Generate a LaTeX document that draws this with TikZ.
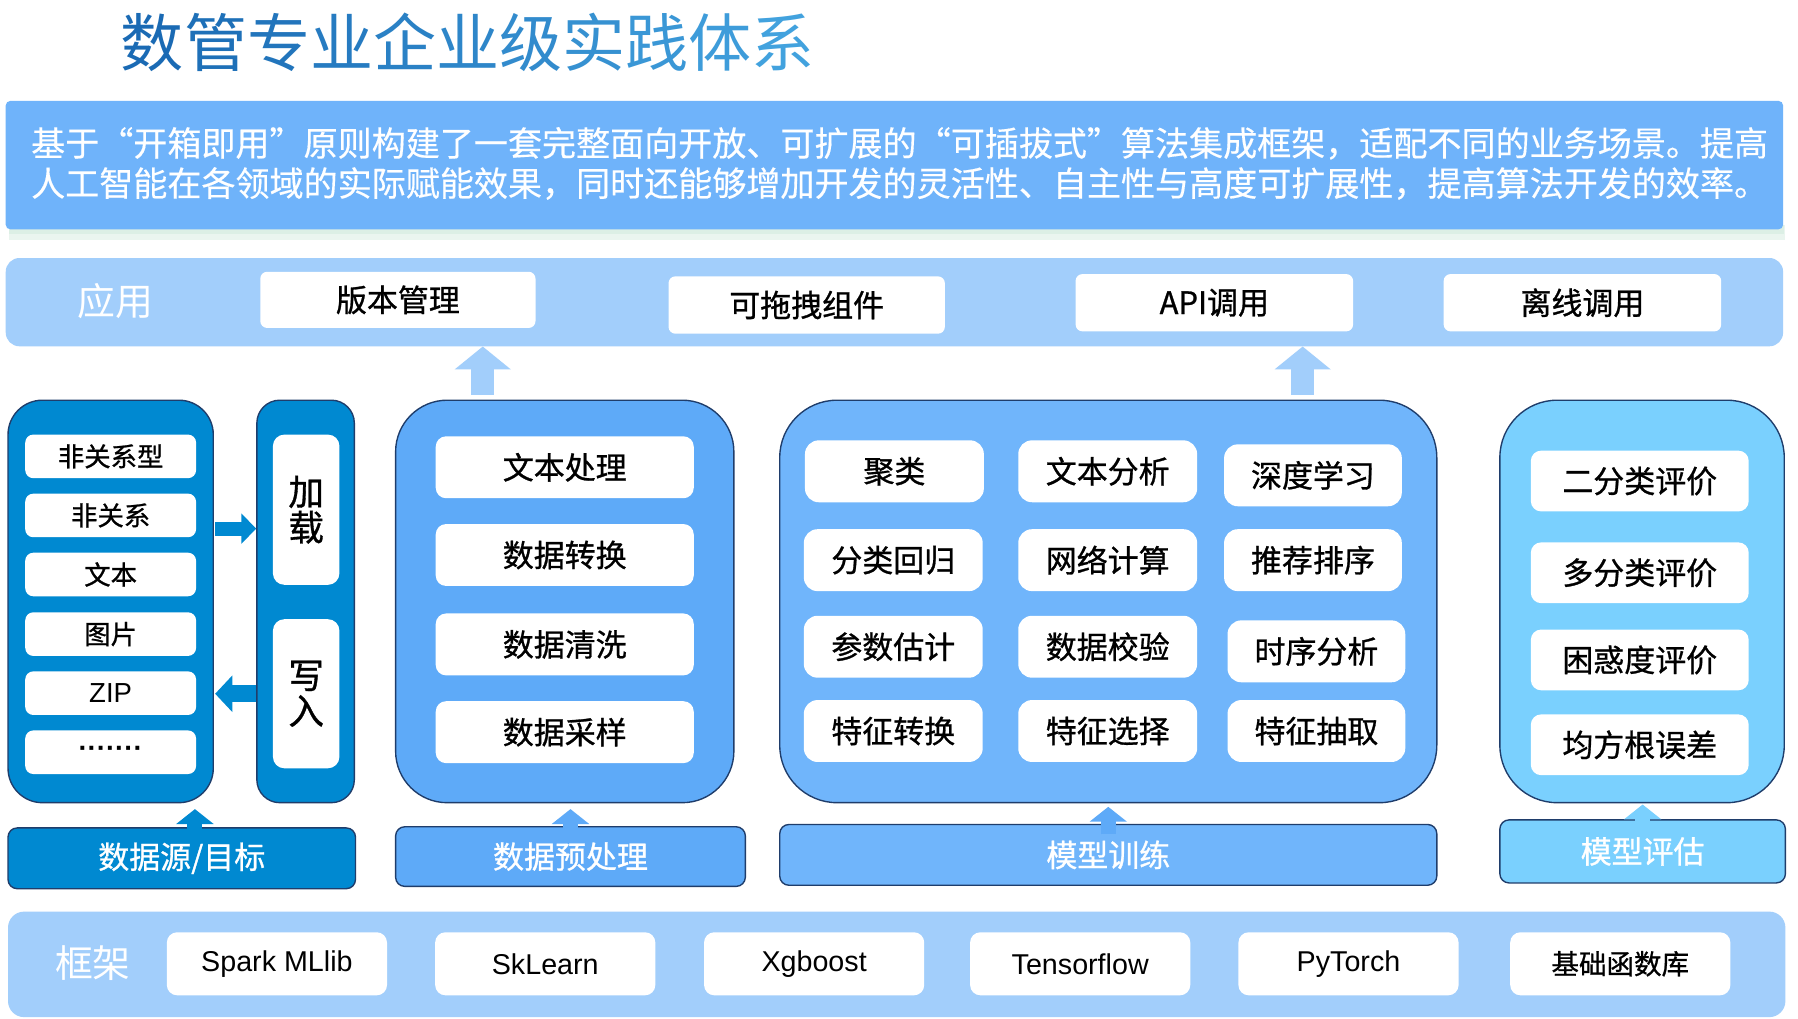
\documentclass[tikz,border=0pt]{standalone}
\usepackage{fontspec}
\setmainfont{Noto Sans CJK SC}
\newfontfamily\cjkb[FakeBold=0.9]{Noto Sans CJK SC}
\newfontfamily\cjkm[FakeBold=0.4]{Noto Sans CJK SC}
\newfontfamily\latfont{Liberation Sans}
\usetikzlibrary{arrows.meta,calc}
\definecolor{ttlA}{HTML}{1A6AB4}
\definecolor{ttlB}{HTML}{42A2DE}
\definecolor{banc}{HTML}{6FB3FA}
\definecolor{lightbar}{HTML}{A2CEFB}
\definecolor{cA}{HTML}{0089D1}
\definecolor{cB}{HTML}{5EAAF8}
\definecolor{cC}{HTML}{70B5FB}
\definecolor{cD}{HTML}{7AD0FE}
\definecolor{navy}{HTML}{1F3D6B}
\definecolor{shd}{HTML}{DCEFE5}
\newcommand\fsz[1]{\fontsize{#1}{#1}\selectfont}
\newcommand\tch[2]{{\color{ttlB!#1!ttlA}#2}}
\begin{document}
\begin{tikzpicture}[x=1pt,y=-1pt,
  sz/.style 2 args={minimum width=#1pt, minimum height=#2pt},
  wbox/.style={fill=white, rounded corners=9pt, inner sep=0pt, text=black, font=\cjkb\fsz{27}},
  bigbox/.style={draw=navy, line width=1.2pt, inner sep=0pt},
  cbar/.style={draw=navy, line width=1.2pt, rounded corners=8pt, inner sep=0pt, text=white, font=\cjkb\fsz{27}},
  lbar/.style={fill=lightbar, inner sep=0pt},
  lbl/.style={text=white, font=\fsz{33}, inner sep=0pt},
  bantext/.style={text=white, font=\cjkm\fsz{29.7}, inner sep=0pt, anchor=west},
  uparr/.style={draw=#1, line width=13pt, -{Triangle[width=32pt,length=13pt]}},
  apparr/.style={draw=lightbar, line width=20pt, -{Triangle[width=48pt,length=20pt]}},
  fwtext/.style={font=\latfont\fsz{25}}
]
\useasboundingbox (0,0) rectangle (1568,888);
\fill[white] (0,0) rectangle (1568,888);

% title
\node[font=\fsz{55}, inner sep=0pt] (ttl) at (408,37) {\tch{0}{数}\tch{10}{管}\tch{20}{专}\tch{30}{业}\tch{40}{企}\tch{50}{业}\tch{60}{级}\tch{70}{实}\tch{80}{践}\tch{90}{体}\tch{100}{系}};

% banner
\fill[shd, opacity=0.6] (8,196) rectangle (1557,209);
\fill[shd] (8,196) rectangle (1556,204);
\node[fill=banc, rounded corners=4pt, sz={1550}{112}, inner sep=0pt] (ban) at (780,144) {};
\node[bantext] (l1) at (27,125) {基于“开箱即用”原则构建了一套完整面向开放、可扩展的“可插拔式”算法集成框架，适配不同的业务场景。提高};
\node[bantext] (l2) at (27,160) {人工智能在各领域的实际赋能效果，同时还能够增加开发的灵活性、自主性与高度可扩展性，提高算法开发的效率。};

% application row
\node[lbar, rounded corners=12pt, sz={1550}{77}] (app) at (780,263.5) {};
\node[lbl] (appl) at (101,263) {应用};
\node[wbox, rounded corners=6pt, sz={240}{49}] (v1) at (347,261.5) {版本管理};
\node[wbox, rounded corners=6pt, sz={241}{50}] (v2) at (703.5,266) {可拖拽组件};
\node[wbox, rounded corners=6pt, sz={242}{50}] (v3) at (1059,264) {API调用};
\node[wbox, rounded corners=6pt, sz={242}{50}] (v4) at (1380,264) {离线调用};

% big boxes
\node[bigbox, fill=cA, rounded corners=30pt, sz={179}{351}] (c1) at (96.5,524.5) {};
\node[bigbox, fill=cA, rounded corners=20pt, sz={85}{351}] (c2) at (266.5,524.5) {};
\node[bigbox, fill=cB, rounded corners=45pt, sz={295}{351}] (c3) at (492.5,524.5) {};
\node[bigbox, fill=cC, rounded corners=50pt, sz={573}{351}] (c4) at (966.5,524.5) {};
\node[bigbox, fill=cD, rounded corners=50pt, sz={248}{351}] (c5) at (1432,524.5) {};

% column 1 items
\node[wbox, rounded corners=7pt, sz={149}{38}, font=\cjkb\fsz{23}] (d1) at (96.5,398) {非关系型};
\node[wbox, rounded corners=7pt, sz={149}{38}, font=\cjkb\fsz{23}] (d2) at (96.5,449.5) {非关系};
\node[wbox, rounded corners=7pt, sz={149}{38}, font=\cjkb\fsz{23}] (d3) at (96.5,501) {文本};
\node[wbox, rounded corners=7pt, sz={149}{38}, font=\cjkb\fsz{23}] (d4) at (96.5,553) {图片};
\node[wbox, rounded corners=7pt, sz={149}{38}, font=\latfont\fsz{24}] (d5) at (96.5,604.5) {ZIP};
\node[wbox, rounded corners=7pt, sz={149}{38}, font=\latfont\bfseries\fsz{24}] (d6) at (96.5,656) {·······};

% column 2 items
\node[wbox, rounded corners=10pt, sz={58}{131}, font=\cjkb\fsz{31}, align=center] (jz) at (267,444.5) {加\\载};
\node[wbox, rounded corners=10pt, sz={58}{130}, font=\cjkb\fsz{31}, align=center] (xr) at (267,605) {写\\入};

% side arrows
\draw[draw=cA, line width=12pt, -{Triangle[width=26pt,length=13pt]}] ($(c1.east)+(1,-63.5)$) -- ($(c2.west)+(0,-63.5)$);
\draw[draw=cA, line width=15pt, -{Triangle[width=31pt,length=15pt]}] ($(c2.west)+(0,80.5)$) -- ($(c1.east)+(1,80.5)$);

% column 3 items
\node[wbox, sz={225}{54}] (p1) at (492.5,407.5) {文本处理};
\node[wbox, sz={225}{54}] (p2) at (492.5,484) {数据转换};
\node[wbox, sz={225}{54}] (p3) at (492.5,562) {数据清洗};
\node[wbox, sz={225}{54}] (p4) at (492.5,638.5) {数据采样};

% column 4 items
\node[wbox, rounded corners=12pt, sz={156}{54}] (m11) at (780,411) {聚类};
\node[wbox, rounded corners=12pt, sz={156}{54}] (m12) at (966,411) {文本分析};
\node[wbox, rounded corners=12pt, sz={155}{54}] (m13) at (1145,414.5) {深度学习};
\node[wbox, rounded corners=12pt, sz={156}{54}] (m21) at (779,488.5) {分类回归};
\node[wbox, rounded corners=12pt, sz={156}{54}] (m22) at (966,488.5) {网络计算};
\node[wbox, rounded corners=12pt, sz={155}{54}] (m23) at (1145,488.5) {推荐排序};
\node[wbox, rounded corners=12pt, sz={156}{54}] (m31) at (779,564) {参数估计};
\node[wbox, rounded corners=12pt, sz={156}{54}] (m32) at (966,564) {数据校验};
\node[wbox, rounded corners=12pt, sz={155}{54}] (m33) at (1148,568) {时序分析};
\node[wbox, rounded corners=12pt, sz={156}{54}] (m41) at (779,637.5) {特征转换};
\node[wbox, rounded corners=12pt, sz={156}{54}] (m42) at (966,637.5) {特征选择};
\node[wbox, rounded corners=12pt, sz={155}{54}] (m43) at (1148,637.5) {特征抽取};

% column 5 items
\node[wbox, sz={190}{53}] (e1) at (1430,419.5) {二分类评价};
\node[wbox, sz={190}{53}] (e2) at (1430,499.5) {多分类评价};
\node[wbox, sz={190}{53}] (e3) at (1430,575.5) {困惑度评价};
\node[wbox, sz={190}{53}] (e4) at (1430,649.5) {均方根误差};

% bottom bars
\node[cbar, fill=cA, sz={303}{53}] (b1) at (158.5,748.5) {数据源/目标};
\node[cbar, fill=cB, sz={305}{52}] (b2) at (497.5,747) {数据预处理};
\node[cbar, fill=cC, sz={573}{53}] (b3) at (966.5,745.5) {模型训练};
\node[cbar, fill=cD, sz={249}{55}] (b4) at (1432.5,742.5) {模型评估};

% up arrows from bars
\coordinate (t1) at ($(b1.north)+(11.5,9)$);
\draw[uparr=cA] (t1) -- ($(t1 |- c1.south)+(0,5)$);
\coordinate (t2) at ($(b2.north)+(0,9)$);
\draw[uparr=cB] (t2) -- ($(t2 |- c3.south)+(0,5)$);
\coordinate (t3) at ($(b3.north)+(0,9)$);
\draw[uparr=cB] (t3) -- ($(t3 |- c4.south)+(0,3)$);
\coordinate (t4) at ($(b4.north)+(0,9)$);
\draw[uparr=cD] (t4) -- ($(t4 |- c5.south)+(0,1)$);

% arrows to application row
\coordinate (a1) at ($(c3.north)+(-71.5,-4)$);
\draw[apparr] (a1) -- (a1 |- app.south);
\coordinate (a2) at ($(c4.north)+(169.5,-4)$);
\draw[apparr] (a2) -- (a2 |- app.south);

% framework row
\node[lbar, rounded corners=14pt, sz={1550}{92}] (fw) at (782,841) {};
\node[lbl] (fwl) at (81,840) {框架};
\node[wbox, sz={192}{55}, fwtext] (f1) at (241.5,840.5) {Spark MLlib};
\node[wbox, sz={192}{55}, fwtext] (f2) at (475.5,840.5) {SkLearn};
\node[wbox, sz={192}{55}, fwtext] (f3) at (710,840.5) {Xgboost};
\node[wbox, sz={192}{55}, fwtext] (f4) at (942,840.5) {Tensorflow};
\node[wbox, sz={192}{55}, fwtext] (f5) at (1176,840.5) {PyTorch};
\node[wbox, sz={192}{55}, font=\cjkb\fsz{24}] (f6) at (1413,840.5) {基础函数库};
\end{tikzpicture}
\end{document}
